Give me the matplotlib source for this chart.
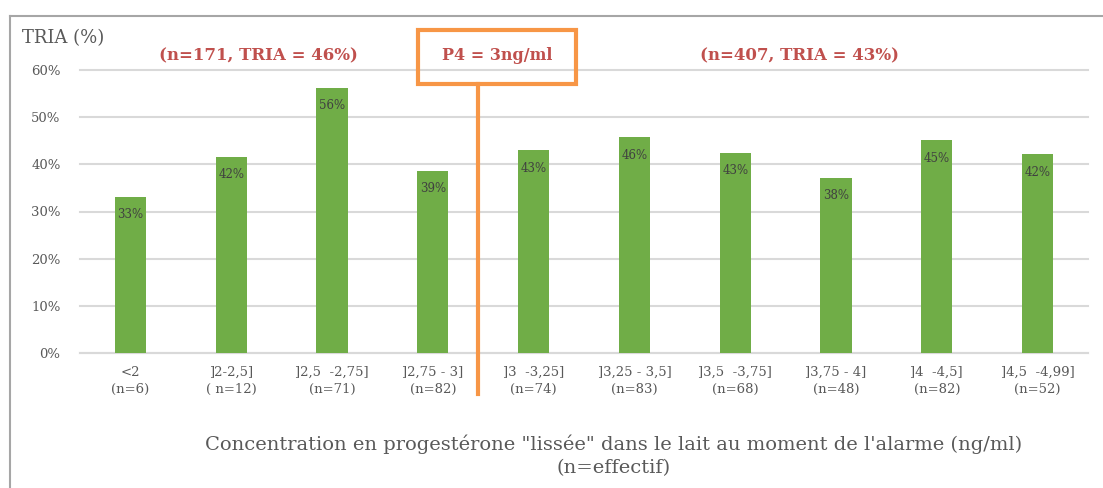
import matplotlib.pyplot as plt
from matplotlib.patches import Rectangle
from matplotlib.lines import Line2D

categories = ["<2\n(n=6)", "]2-2,5]\n( n=12)", "]2,5  -2,75]\n(n=71)", "]2,75 - 3]\n(n=82)",
              "]3  -3,25]\n(n=74)", "]3,25 - 3,5]\n(n=83)", "]3,5  -3,75]\n(n=68)",
              "]3,75 - 4]\n(n=48)", "]4  -4,5]\n(n=82)", "]4,5  -4,99]\n(n=52)"]
tria = [0.331, 0.416, 0.562, 0.386, 0.430, 0.457, 0.425, 0.371, 0.451, 0.421]
labels = ["33%", "42%", "56%", "39%", "43%", "46%", "43%", "38%", "45%", "42%"]
threshold_x = 3.45

GREEN = "#70AD47"
RED = "#C0504D"
ORANGE = "#F79646"
GREY = "#595959"

plt.rcParams["font.family"] = ["DejaVu Serif"]

W, H = 1103, 488
fig = plt.figure(figsize=(W / 100, H / 100), dpi=100)
ax = fig.add_axes([80 / W, 1 - 353 / H, (1088 - 80) / W, (353 - 70) / H])

x = list(range(len(categories)))
ax.bar(x, tria, width=0.31, color=GREEN, zorder=3)
for xi, v, lab in zip(x, tria, labels):
    ax.text(xi, v - 0.024, lab, ha="center", va="top", fontsize=8.5, color="#404040", zorder=4)

ax.set_xlim(-0.5, 9.5)
ax.set_ylim(0, 0.6)
ax.set_yticks([0, 0.1, 0.2, 0.3, 0.4, 0.5, 0.6])
ax.set_yticklabels(["0%", "10%", "20%", "30%", "40%", "50%", "60%"], fontsize=9.5, color=GREY)
ax.set_xticks(x)
ax.set_xticklabels(categories, fontsize=9.5, color=GREY, linespacing=1.4)
ax.tick_params(axis="x", length=0, pad=9)
ax.tick_params(axis="y", length=0, pad=14)
ax.grid(axis="y", color="#D9D9D9", linewidth=1.5, zorder=0)
for line in ax.get_ygridlines():
    line.set_clip_on(False)
for side in ["top", "right", "left"]:
    ax.spines[side].set_visible(False)
ax.spines["bottom"].set_color("#D9D9D9")
ax.spines["bottom"].set_linewidth(1.5)

# threshold line and box
ax.plot([threshold_x, threshold_x], [0.570, -0.087], color=ORANGE, linewidth=3,
        clip_on=False, zorder=5)
fig.add_artist(Rectangle((418 / W, 1 - 84 / H), 158 / W, 54 / H, transform=fig.transFigure,
                         fill=False, edgecolor=ORANGE, linewidth=3))
fig.text(497 / W, 1 - 56 / H, "P4 = 3ng/ml", ha="center", va="center", fontsize=11.5,
         color=RED, fontweight="bold")
fig.text(258 / W, 1 - 56 / H, "(n=171, TRIA = 46%)", ha="center", va="center", fontsize=12,
         color=RED, fontweight="bold")
fig.text(800 / W, 1 - 56 / H, "(n=407, TRIA = 43%)", ha="center", va="center", fontsize=12,
         color=RED, fontweight="bold")

fig.text(22 / W, 1 - 38 / H, "TRIA (%)", ha="left", va="center", fontsize=13, color=GREY)
fig.text(614 / W, 1 - 444 / H, "Concentration en progestérone \"lissée\" dans le lait au moment de l'alarme (ng/ml)",
         ha="center", va="center", fontsize=14, color=GREY)
fig.text(614 / W, 1 - 468 / H, "(n=effectif)", ha="center", va="center", fontsize=14, color=GREY)

# outer frame
fig.add_artist(Line2D([10 / W, 1], [1 - 16 / H, 1 - 16 / H], transform=fig.transFigure,
                      color="#A6A6A6", linewidth=1.5))
fig.add_artist(Line2D([10 / W, 10 / W], [0, 1 - 16 / H], transform=fig.transFigure,
                      color="#A6A6A6", linewidth=1.5))

fig.savefig("out.png", dpi=100)
